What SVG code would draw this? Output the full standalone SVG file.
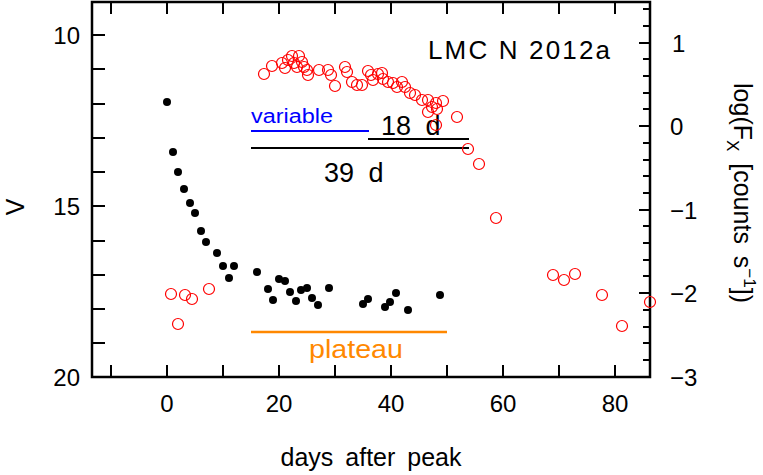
<svg xmlns="http://www.w3.org/2000/svg" width="763" height="475" viewBox="0 0 763 475">
<style>
text{font-family:"Liberation Sans",Arial,sans-serif;fill:#000}
.t{font-size:24px}
.ax{stroke:#000;stroke-width:2.5;fill:none}
.tk{stroke:#000;stroke-width:2}
.d{fill:#000}
.r{fill:none;stroke:#f00;stroke-width:1.2}
</style>
<rect width="763" height="475" fill="#fff"/>
<g id="frame">
<rect class="ax" x="92" y="2" width="558" height="375"/>
<path class="tk" d="M111,377v-12M167,377v-12M223,377v-12M279,377v-12M335,377v-12M391,377v-12M447,377v-12M503,377v-12M559,377v-12M615,377v-12M111,2v12M167,2v12M223,2v12M279,2v12M335,2v12M391,2v12M447,2v12M503,2v12M559,2v12M615,2v12M92,35h13M92,69h13M92,104h13M92,138h13M92,172h13M92,206h13M92,241h13M92,275h13M92,309h13M92,343h13"/>
<path class="tk" d="M650,43h-11M650,126h-11M650,210h-11M650,293h-11M650,377h-11M650,9h-7M650,26h-7M650,59h-7M650,76h-7M650,93h-7M650,109h-7M650,143h-7M650,160h-7M650,176h-7M650,193h-7M650,226h-7M650,243h-7M650,260h-7M650,276h-7M650,310h-7M650,327h-7M650,343h-7M650,360h-7"/>
</g>
<g id="labels">
<text class="t" x="167" y="412" text-anchor="middle">0</text>
<text class="t" x="279" y="412" text-anchor="middle">20</text>
<text class="t" x="391" y="412" text-anchor="middle">40</text>
<text class="t" x="503" y="412" text-anchor="middle">60</text>
<text class="t" x="615" y="412" text-anchor="middle">80</text>
<text class="t" x="80" y="44" text-anchor="end">10</text>
<text class="t" x="80" y="215" text-anchor="end">15</text>
<text class="t" x="80" y="386" text-anchor="end">20</text>
<text class="t" x="672" y="52">1</text>
<text class="t" x="670" y="135">0</text>
<text class="t" x="670" y="219">−1</text>
<text class="t" x="670" y="302">−2</text>
<text class="t" x="670" y="386">−3</text>
<text x="371" y="466" font-size="25" text-anchor="middle" word-spacing="5">days after peak</text>
<text x="0" y="0" font-size="25" text-anchor="middle" transform="translate(24,207) rotate(-90)">V</text>
<text x="0" y="0" font-size="25" text-anchor="middle" word-spacing="5" transform="translate(734,193) rotate(90)">log(F<tspan font-size="17" dy="7">X</tspan><tspan dy="-7"> [counts s</tspan><tspan font-size="17" dy="-10">−1</tspan><tspan dy="10">])</tspan></text>
<text x="428" y="59" font-size="26" textLength="182" lengthAdjust="spacing">LMC  N  2012a</text>
</g>
<g id="annotations">
<path d="M251,131H369" stroke="#00f" stroke-width="2"/>
<text x="251" y="123" font-size="20" style="fill:#00f" textLength="82" lengthAdjust="spacingAndGlyphs">variable</text>
<path d="M368,139H469M251,148H469" stroke="#000" stroke-width="2"/>
<text x="381" y="135" font-size="27" word-spacing="7">18 d</text>
<text x="324" y="182" font-size="27" word-spacing="7">39 d</text>
<path d="M251,332H447" stroke="#f80" stroke-width="2.5"/>
<text x="309" y="358" font-size="26" style="fill:#f80" textLength="94" lengthAdjust="spacingAndGlyphs">plateau</text>
</g>
<g id="optical">
<circle class="d" r="4" cx="167" cy="102"/><circle class="d" r="4" cx="173" cy="152"/><circle class="d" r="4" cx="178" cy="172"/><circle class="d" r="4" cx="184" cy="189"/><circle class="d" r="4" cx="190" cy="203"/><circle class="d" r="4" cx="195" cy="213"/><circle class="d" r="4" cx="201" cy="231"/><circle class="d" r="4" cx="206" cy="242"/><circle class="d" r="4" cx="217" cy="253"/><circle class="d" r="4" cx="223" cy="266"/><circle class="d" r="4" cx="229" cy="278"/><circle class="d" r="4" cx="234" cy="266"/><circle class="d" r="4" cx="257" cy="272"/><circle class="d" r="4" cx="268" cy="289"/><circle class="d" r="4" cx="273" cy="300"/><circle class="d" r="4" cx="279" cy="279"/><circle class="d" r="4" cx="285" cy="281"/><circle class="d" r="4" cx="290" cy="292"/><circle class="d" r="4" cx="296" cy="301"/><circle class="d" r="4" cx="301" cy="290"/><circle class="d" r="4" cx="307" cy="288"/><circle class="d" r="4" cx="312" cy="298"/><circle class="d" r="4" cx="318" cy="305"/><circle class="d" r="4" cx="329" cy="288"/><circle class="d" r="4" cx="363" cy="304"/><circle class="d" r="4" cx="368" cy="299"/><circle class="d" r="4" cx="385" cy="307"/><circle class="d" r="4" cx="390" cy="302"/><circle class="d" r="4" cx="396" cy="293"/><circle class="d" r="4" cx="408" cy="310"/><circle class="d" r="4" cx="440" cy="295"/>
</g>
<g id="xray">
<circle class="r" r="5.5" cx="171" cy="294"/><circle class="r" r="5.5" cx="178" cy="324"/><circle class="r" r="5.5" cx="185" cy="295"/><circle class="r" r="5.5" cx="192" cy="299"/><circle class="r" r="5.5" cx="209" cy="289"/>
<circle class="r" r="5.5" cx="264" cy="74"/><circle class="r" r="5.5" cx="272" cy="66"/><circle class="r" r="5.5" cx="282" cy="63"/><circle class="r" r="5.5" cx="285" cy="68"/><circle class="r" r="5.5" cx="288" cy="60"/><circle class="r" r="5.5" cx="292" cy="56"/><circle class="r" r="5.5" cx="294" cy="63"/><circle class="r" r="5.5" cx="297" cy="67"/><circle class="r" r="5.5" cx="299" cy="56"/><circle class="r" r="5.5" cx="302" cy="62"/><circle class="r" r="5.5" cx="304" cy="67"/><circle class="r" r="5.5" cx="307" cy="70"/><circle class="r" r="5.5" cx="308" cy="75"/><circle class="r" r="5.5" cx="319" cy="70"/><circle class="r" r="5.5" cx="328" cy="70"/><circle class="r" r="5.5" cx="331" cy="75"/><circle class="r" r="5.5" cx="335" cy="86"/><circle class="r" r="5.5" cx="345" cy="67"/><circle class="r" r="5.5" cx="347" cy="72"/><circle class="r" r="5.5" cx="352" cy="82"/><circle class="r" r="5.5" cx="357" cy="85"/><circle class="r" r="5.5" cx="362" cy="85"/><circle class="r" r="5.5" cx="368" cy="71"/><circle class="r" r="5.5" cx="371" cy="75"/><circle class="r" r="5.5" cx="373" cy="80"/><circle class="r" r="5.5" cx="378" cy="74"/><circle class="r" r="5.5" cx="382" cy="73"/><circle class="r" r="5.5" cx="383" cy="79"/><circle class="r" r="5.5" cx="388" cy="82"/><circle class="r" r="5.5" cx="393" cy="83"/><circle class="r" r="5.5" cx="397" cy="87"/><circle class="r" r="5.5" cx="402" cy="82"/><circle class="r" r="5.5" cx="405" cy="87"/><circle class="r" r="5.5" cx="410" cy="93"/><circle class="r" r="5.5" cx="415" cy="95"/><circle class="r" r="5.5" cx="422" cy="100"/><circle class="r" r="5.5" cx="428" cy="100"/><circle class="r" r="5.5" cx="432" cy="107"/><circle class="r" r="5.5" cx="428" cy="112"/><circle class="r" r="5.5" cx="437" cy="109"/><circle class="r" r="5.5" cx="443" cy="101"/><circle class="r" r="5.5" cx="436" cy="103"/><circle class="r" r="5.5" cx="436" cy="125"/><circle class="r" r="5.5" cx="457" cy="117"/><circle class="r" r="5.5" cx="468" cy="149"/><circle class="r" r="5.5" cx="479" cy="164"/><circle class="r" r="5.5" cx="496" cy="218"/><circle class="r" r="5.5" cx="553" cy="275"/><circle class="r" r="5.5" cx="564" cy="280"/><circle class="r" r="5.5" cx="575" cy="274"/><circle class="r" r="5.5" cx="602" cy="295"/><circle class="r" r="5.5" cx="622" cy="326"/><circle class="r" r="5.5" cx="650" cy="302"/>
</g>
</svg>
